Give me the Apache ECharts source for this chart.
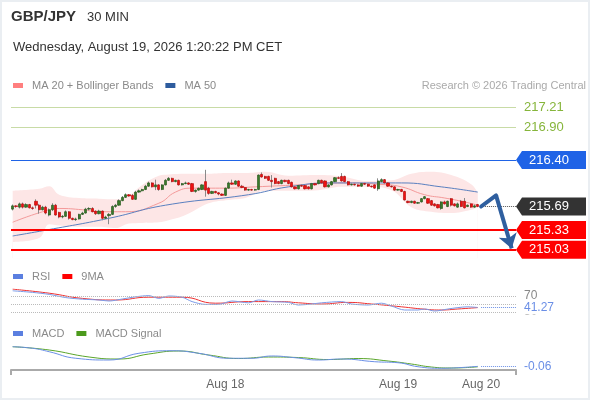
<!DOCTYPE html>
<html>
<head>
<meta charset="utf-8">
<title>GBP/JPY 30 MIN</title>
<script src="https://cdn.jsdelivr.net/npm/echarts@6.0.0/dist/echarts.min.js"></script>
<style>
  html, body { margin: 0; padding: 0; background: #fff; }
  #chart { width: 590px; height: 400px; }
  #frame { position: absolute; left: 0; top: 0; width: 590px; height: 400px; box-sizing: border-box; border: 2px solid #eaeef2; pointer-events: none; }
</style>
</head>
<body>
<div id="chart"></div>
<div id="frame"></div>
<script>
// slots on the time axis (candles + empty room on the right)
const SLOTS = 152;
const dateTicks = [[64, 'Aug 18'], [116, 'Aug 19'], [141, 'Aug 20']];

// 30 min candles: [open, close, low, high]
const candles = [
  [215.65,215.70,215.63,215.72],[215.70,215.69,215.67,215.71],[215.68,215.73,215.66,215.75],[215.73,215.68,215.66,215.75],
  [215.68,215.72,215.67,215.74],[215.72,215.67,215.66,215.73],[215.67,215.66,215.64,215.69],[215.77,215.71,215.66,215.80],
  [215.71,215.64,215.58,215.73],[215.64,215.68,215.63,215.70],[215.68,215.59,215.57,215.70],[215.56,215.64,215.54,215.66],
  [215.64,215.71,215.62,215.74],[215.71,215.56,215.55,215.73],[215.60,215.53,215.51,215.61],[215.53,215.54,215.51,215.56],
  [215.54,215.61,215.53,215.63],[215.61,215.51,215.49,215.62],[215.51,215.49,215.48,215.52],[215.49,215.50,215.47,215.52],
  [215.50,215.57,215.49,215.58],[215.57,215.59,215.56,215.61],[215.59,215.65,215.58,215.67],[215.65,215.66,215.63,215.68],
  [215.66,215.61,215.60,215.68],[215.62,215.58,215.56,215.63],[215.58,215.62,215.57,215.64],[215.62,215.51,215.48,215.63],
  [215.51,215.53,215.50,215.55],[215.55,215.57,215.42,215.59],[215.57,215.69,215.56,215.71],[215.69,215.71,215.67,215.73],
  [215.71,215.78,215.70,215.80],[215.78,215.83,215.77,215.85],[215.83,215.87,215.82,215.89],[215.87,215.85,215.84,215.88],
  [215.86,215.80,215.79,215.88],[215.80,215.91,215.79,215.93],[215.91,215.93,215.90,215.95],[215.93,215.95,215.92,215.96],
  [215.95,216.00,215.94,216.02],[216.00,216.05,215.99,216.07],[216.05,215.99,215.98,216.06],[215.99,216.02,215.94,216.10],
  [216.02,215.95,215.93,216.03],[215.95,216.02,215.94,216.03],[216.02,216.09,216.01,216.11],[216.09,216.12,216.08,216.14],
  [216.12,216.07,216.06,216.13],[216.07,216.09,216.06,216.10],[216.09,216.02,216.01,216.10],[216.02,216.04,216.01,216.05],
  [216.04,216.05,216.03,216.07],[216.05,216.03,216.02,216.06],[216.04,215.92,215.91,216.05],[215.92,215.94,215.90,215.95],
  [215.94,215.97,215.93,215.98],[215.95,216.02,215.94,216.03],[216.07,215.94,215.84,216.25],[215.97,215.89,215.87,215.99],
  [215.89,215.92,215.88,215.93],[215.92,215.90,215.89,215.93],[215.90,215.88,215.86,215.91],[215.88,215.86,215.85,215.89],
  [215.86,215.97,215.85,215.98],[215.97,216.05,215.96,216.07],[216.05,216.03,216.02,216.10],[216.03,216.08,216.02,216.09],
  [216.08,216.00,215.99,216.09],[216.00,215.98,215.97,216.02],[215.98,215.94,215.93,215.99],[215.94,215.95,215.93,215.96],
  [215.95,215.94,215.93,215.96],[215.94,215.95,215.93,215.96],[215.95,216.17,215.94,216.18],[216.18,216.14,216.13,216.21],
  [216.15,216.12,216.11,216.16],[216.15,216.09,216.08,216.16],[216.09,216.07,215.98,216.17],[216.12,216.04,216.03,216.13],
  [216.07,216.04,216.03,216.08],[216.04,216.09,216.03,216.10],[216.09,216.07,216.06,216.10],[216.09,216.04,216.03,216.10],
  [216.06,215.99,215.98,216.07],[215.99,215.96,215.95,216.00],[215.96,216.01,215.95,216.02],[216.01,216.00,215.99,216.03],
  [216.01,215.96,215.95,216.02],[215.99,215.96,215.95,216.00],[215.96,216.04,215.95,216.05],[216.04,216.02,216.01,216.05],
  [216.04,216.09,216.03,216.10],[216.09,216.05,216.04,216.10],[216.08,215.99,215.98,216.09],[215.99,216.02,215.98,216.03],
  [216.02,216.07,216.01,216.08],[216.07,216.13,216.06,216.14],[216.13,216.12,216.11,216.15],[216.15,216.08,216.07,216.20],
  [216.15,216.07,216.06,216.16],[216.07,216.02,216.01,216.08],[216.02,216.03,216.01,216.04],[216.03,216.02,216.01,216.04],
  [216.02,216.00,215.99,216.03],[216.00,216.04,215.99,216.05],[216.04,216.03,216.02,216.05],[216.03,216.00,215.99,216.04],
  [216.00,215.99,215.98,216.01],[216.02,215.97,215.96,216.03],[215.96,216.08,215.93,216.12],[216.07,216.10,216.06,216.12],
  [216.10,216.05,216.04,216.11],[216.05,216.00,215.99,216.06],[216.00,215.99,215.98,216.01],[215.99,215.94,215.93,216.00],
  [215.94,215.95,215.93,215.96],[215.95,215.92,215.91,215.96],[215.92,215.79,215.78,215.93],[215.77,215.75,215.74,215.78],
  [215.75,215.77,215.74,215.78],[215.77,215.74,215.73,215.78],[215.74,215.75,215.73,215.76],[215.76,215.81,215.75,215.82],
  [215.81,215.84,215.80,215.85],[215.81,215.74,215.73,215.82],[215.78,215.71,215.70,215.79],[215.73,215.70,215.69,215.74],
  [215.72,215.67,215.66,215.73],[215.66,215.76,215.64,215.77],[215.76,215.73,215.72,215.78],[215.69,215.77,215.68,215.78],
  [215.81,215.71,215.69,215.82],[215.73,215.70,215.69,215.74],[215.68,215.73,215.67,215.75],[215.77,215.69,215.68,215.79],
  [215.77,215.67,215.66,215.82],[215.69,215.71,215.68,215.72],[215.73,215.68,215.67,215.74],[215.68,215.70,215.67,215.72],
  [215.72,215.69,215.68,215.73]
];

// indicators read at candle index: [index, value]
const ma20 = [[0,215.45],[9,215.61],[14,215.66],[21,215.64],[26,215.61],[34,215.61],[44,215.74],[49,215.91],[54,215.97],
  [64,215.97],[73,215.99],[86,216.02],[99,216.05],[110,216.03],[117,215.99],[124,215.87],[130,215.82],[136,215.76],[140,215.71]];
const ma50 = [[0,215.24],[9,215.32],[29,215.51],[46,215.71],[71,215.87],[83,215.99],[96,216.05],[117,216.05],[129,215.99],[140,215.91]];
// [index, lower band, upper band]
const bollinger = [[0,215.15,215.93],[8,215.21,215.96],[11,215.42,216.00],[14,215.40,215.87],[20,215.38,215.82],[26,215.38,215.81],
  [31,215.36,215.80],[35,215.43,215.86],[39,215.44,216.02],[44,215.45,216.16],[47,215.48,216.18],[52,215.56,216.19],[59,215.74,216.19],
  [65,215.79,216.20],[70,215.82,216.20],[76,215.93,216.22],[83,215.93,216.16],[92,215.94,216.17],[99,215.99,216.15],[107,215.99,216.08],
  [114,215.94,216.09],[120,215.68,216.19],[126,215.61,216.22],[132,215.59,216.17],[138,215.64,216.03],[140,215.68,215.90]];

const rsi = [[0,83],[6,79],[11,74],[16,66],[21,62],[26,60],[29,57.5],[33,62.5],[37,68],[41,71],[44,64],[47,70],[51,67],[54,56],
  [58,49],[62,49],[66,57.5],[71,53],[74,60],[78,56],[83,54],[86,47.5],[90,50],[93,53],[99,56],[102,50],[107,47.5],[111,52],[114,45],
  [118,35],[122,35],[124,37.5],[127,32.5],[131,37.5],[134,41],[137,43],[140,41.27]];
const rsiMa = [[0,87],[11,77],[21,64],[31,60],[41,67],[51,67],[61,52],[71,56],[81,56],[86,53],[93,50],[101,54],[108,50],[117,43],
  [124,37],[129,35],[134,37.5],[140,41]];
const macd = [[0,0.156],[6,0.139],[11,0.101],[19,0.029],[29,0.010],[38,0.084],[48,0.112],[56,0.084],[65,0.029],[72,0.029],[78,0.054],
  [85,0.035],[92,0.010],[99,0.021],[109,-0.009],[116,-0.020],[122,-0.064],[129,-0.081],[134,-0.075],[140,-0.06]];
const macdSignal = [[0,0.156],[11,0.120],[23,0.043],[32,0.021],[41,0.076],[50,0.109],[59,0.065],[68,0.026],[77,0.043],[86,0.037],
  [95,0.015],[104,0.026],[113,-0.001],[120,-0.034],[126,-0.067],[132,-0.078],[140,-0.065]];

// levels
const targetLevels = [217.21, 216.90];
const pivotLevel = 216.40;
const supportLevels = [215.33, 215.03];
const lastPrice = 215.69;
const arrowPath = [[141, 215.69], [145.5, 215.86], [150.2, 215.05]];
const rsiLevels = [70, 50, 30];
const rsiLast = 41.27;
const macdLast = -0.06;

const categories = new Array(SLOTS).fill('');
dateTicks.forEach(([i, t]) => { categories[i] = t; });
const bodies = candles.map(([o, c]) => [o, c, Math.min(o, c), Math.max(o, c)]);

const idxAxis = (grid) => ({ type: 'value', gridIndex: grid, position: 'top', min: -0.5, max: SLOTS - 0.5, show: false });
const tagPath = 'path://M0,9L6,0L70,0L70,18L6,18Z';
function tag(price, color) {
  return {
    coord: [SLOTS - 0.5, price], symbol: tagPath, symbolSize: [70, 18], symbolOffset: [35, 0],
    itemStyle: { color: color },
    label: { show: true, position: 'inside', formatter: price.toFixed(2), color: '#fff', fontSize: 13, offset: [-2, 0] }
  };
}
const legendBase = {
  icon: 'rect', itemWidth: 10, itemHeight: 5, itemGap: 12, padding: 0, left: 13, selectedMode: false,
  textStyle: { color: '#8a8a8a', fontSize: 11, padding: [0, 0, 0, 4] }
};

const chart = echarts.init(document.getElementById('chart'));
chart.setOption({
  animation: false,
  textStyle: { fontFamily: 'Arial, "Liberation Sans", sans-serif' },
  title: [
    { text: 'GBP/JPY', left: 11, top: 9, padding: 0, textStyle: { fontSize: 15, fontWeight: 'bold', color: '#333' } },
    { text: '30 MIN', left: 87, top: 11, padding: 0, textStyle: { fontSize: 13, fontWeight: 'normal', color: '#333' } },
    { text: 'Wednesday, August 19, 2026 1:20:22 PM CET', left: 13, top: 41, padding: 0, textStyle: { fontSize: 13, fontWeight: 'normal', color: '#333' } },
    { text: 'Research \u00a9 2026 Trading Central', right: 4, top: 80, padding: 0, textStyle: { fontSize: 11, fontWeight: 'normal', color: '#aaa' } }
  ],
  legend: [
    Object.assign({ top: 80, data: ['MA 20 + Bollinger Bands', 'MA 50'] }, legendBase),
    Object.assign({ top: 271, data: ['RSI', '9MA'] }, legendBase),
    Object.assign({ top: 328, data: ['MACD', 'MACD Signal'] }, legendBase)
  ],
  grid: [
    { left: 11, right: 74, top: 94.5, height: 163.75 },
    { left: 11, right: 74, top: 286, height: 30 },
    { left: 11, right: 74, top: 340, height: 30 }
  ],
  xAxis: [
    { type: 'category', gridIndex: 0, position: 'bottom', data: categories, show: false },
    idxAxis(0),
    idxAxis(1),
    idxAxis(2),
    {
      type: 'category', gridIndex: 2, position: 'bottom', data: categories, boundaryGap: true,
      axisLine: { lineStyle: { color: '#aaa', width: 2 } },
      axisTick: { show: true, interval: (i) => i === 0, length: 5, lineStyle: { color: '#aaa', width: 2 } },
      axisLabel: { interval: 0, color: '#666', fontSize: 12, margin: 9 },
      splitLine: { show: false }
    }
  ],
  yAxis: [
    { type: 'value', gridIndex: 0, min: 214.90, max: 217.40, show: false },
    { type: 'value', gridIndex: 1, min: 20, max: 95, show: false },
    { type: 'value', gridIndex: 2, min: -0.1, max: 0.23, show: false }
  ],
  series: [
    {
      type: 'line', name: 'bbUpper', xAxisIndex: 1, yAxisIndex: 0, data: bollinger.map(r => [r[0], r[2]]),
      smooth: 0.4, symbol: 'none', silent: true, lineStyle: { width: 0 },
      areaStyle: { color: '#fde6e6', opacity: 1, origin: 'start' }, z: 1
    },
    {
      type: 'line', name: 'bbLower', xAxisIndex: 1, yAxisIndex: 0, data: bollinger.map(r => [r[0], r[1]]),
      smooth: 0.4, symbol: 'none', silent: true, lineStyle: { width: 0 },
      areaStyle: { color: '#ffffff', opacity: 1, origin: 'start' }, z: 1
    },
    {
      type: 'line', name: 'MA 20 + Bollinger Bands', xAxisIndex: 1, yAxisIndex: 0, data: ma20,
      smooth: 0.5, symbol: 'none', color: '#ff7f7f', lineStyle: { color: '#f49a9a', width: 1 }, z: 2
    },
    {
      type: 'line', name: 'MA 50', xAxisIndex: 1, yAxisIndex: 0, data: ma50,
      smooth: 0.5, symbol: 'none', color: '#2e5c9e', lineStyle: { color: '#5a80c0', width: 1 }, z: 2,
      markLine: {
        silent: true, symbol: ['none', 'none'], animation: false,
        data: [
          ...targetLevels.map(p => ({
            yAxis: p, lineStyle: { color: '#c8dba6', width: 1, type: 'solid' },
            label: { show: true, position: 'end', distance: 8, formatter: p.toFixed(2), color: '#86b53b', fontSize: 13 }
          })),
          { yAxis: pivotLevel, lineStyle: { color: '#1f63e6', width: 1, type: 'solid' }, label: { show: false } },
          ...supportLevels.map(p => ({ yAxis: p, lineStyle: { color: '#ff0000', width: 2, type: 'solid' }, label: { show: false } })),
          [
            { coord: [141, lastPrice], lineStyle: { color: '#555', width: 1, type: 'dotted' }, label: { show: false } },
            { coord: [SLOTS - 0.5, lastPrice] }
          ]
        ]
      },
      markPoint: {
        silent: true, animation: false,
        data: [tag(pivotLevel, '#1f63e6'), tag(lastPrice, '#333333')].concat(supportLevels.map(p => tag(p, '#ff0000')))
      }
    },
    {
      type: 'candlestick', name: 'wicks', xAxisIndex: 0, yAxisIndex: 0, data: candles, barWidth: 1, silent: true,
      itemStyle: { color: '#8a8a8a', color0: '#8a8a8a', borderColor: '#8a8a8a', borderColor0: '#8a8a8a', borderWidth: 1 }, z: 3
    },
    {
      type: 'candlestick', name: 'bodies', xAxisIndex: 0, yAxisIndex: 0, data: bodies, barWidth: 2.7, silent: true,
      itemStyle: { color: '#3a7a2a', color0: '#ee1111', borderColor: '#1c5214', borderColor0: '#b00000', borderWidth: 0.6 }, z: 4
    },
    // signal arrow: path plus arrow head on the last leg
    {
      type: 'line', name: 'arrowPath', xAxisIndex: 1, yAxisIndex: 0, data: arrowPath.slice(0, 2), silent: true,
      symbol: 'none', lineStyle: { color: '#2f5f9f', width: 4, cap: 'round' }, z: 6
    },
    {
      type: 'lines', coordinateSystem: 'cartesian2d', xAxisIndex: 1, yAxisIndex: 0, silent: true,
      symbol: ['none', 'arrow'], symbolSize: 14,
      lineStyle: { color: '#2f5f9f', width: 4, opacity: 1 },
      data: [{ coords: arrowPath.slice(1) }], z: 6
    },
    {
      type: 'line', name: 'RSI', xAxisIndex: 2, yAxisIndex: 1, data: rsi,
      smooth: 0.3, symbol: 'none', color: '#5b7fe0', lineStyle: { color: '#7b9be8', width: 1 }, z: 3,
      markLine: {
        silent: true, symbol: ['none', 'none'], animation: false,
        data: [
          ...rsiLevels.map(v => ({
            yAxis: v, lineStyle: { color: '#bbb', width: 1, type: 'dotted' },
            label: { show: v !== 50, position: 'end', distance: 8, formatter: String(v), color: '#888', fontSize: 12 }
          })),
          [
            { coord: [141, rsiLast], lineStyle: { color: '#6b8fe6', width: 1, type: 'dotted' },
              label: { show: true, position: 'end', distance: 8, formatter: rsiLast.toFixed(2), color: '#6b8fe6', fontSize: 12, backgroundColor: '#fff', padding: [1, 2, 1, 0] } },
            { coord: [SLOTS - 0.5, rsiLast] }
          ]
        ]
      }
    },
    {
      type: 'line', name: '9MA', xAxisIndex: 2, yAxisIndex: 1, data: rsiMa,
      smooth: 0.5, symbol: 'none', color: '#ff0000', lineStyle: { color: '#ee3030', width: 1 }, z: 2
    },
    {
      type: 'line', name: 'MACD', xAxisIndex: 3, yAxisIndex: 2, data: macd,
      smooth: 0.5, symbol: 'none', color: '#5b7fe0', lineStyle: { color: '#6b8fe6', width: 1 }, z: 3,
      markLine: {
        silent: true, symbol: ['none', 'none'], animation: false,
        data: [
          { yAxis: 0, lineStyle: { opacity: 0 }, label: { show: true, position: 'end', distance: 8, formatter: '0', color: '#888', fontSize: 12 } },
          [
            { coord: [141, macdLast], lineStyle: { color: '#6b8fe6', width: 1, type: 'dotted' },
              label: { show: true, position: 'end', distance: 8, formatter: macdLast.toFixed(2), color: '#6b8fe6', fontSize: 12, backgroundColor: '#fff', padding: [1, 2, 1, 0] } },
            { coord: [SLOTS - 0.5, macdLast] }
          ]
        ]
      }
    },
    {
      type: 'line', name: 'MACD Signal', xAxisIndex: 3, yAxisIndex: 2, data: macdSignal,
      smooth: 0.5, symbol: 'none', color: '#4c9a1c', lineStyle: { color: '#5aa52a', width: 1 }, z: 2
    }
  ]
});
</script>
</body>
</html>
